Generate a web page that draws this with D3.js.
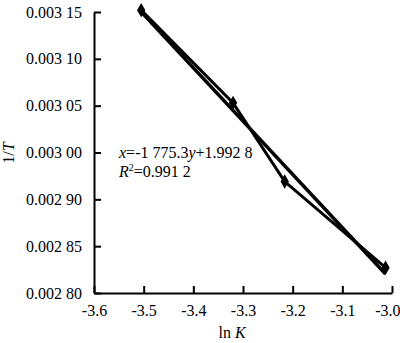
<!DOCTYPE html>
<html lang="en">
<head>
<meta charset="utf-8">
<title>1/T vs ln K</title>
<script src="https://d3js.org/d3.v7.min.js"></script>
<style type="text/css">
  body { margin: 0; background: #fff; }
  text { font-family: "Liberation Serif", "DejaVu Serif", serif; fill: #000; }
</style>
</head>
<body>
<script type="text/javascript">

// data
var lnK = [-3.505, -3.32, -3.216, -3.013];
var invT = [0.003152, 0.003053, 0.002969, 0.002877];

// y ticks (labels as printed, evenly spaced)
var yTickValues = [0.00285, 0.00290, 0.00295, 0.00300, 0.00305, 0.00310, 0.00315];
var yTickLabels = ["0.002 80", "0.002 85", "0.002 90", "0.003 00", "0.003 05", "0.003 10", "0.003 15"];
var xTickValues = [-3.6, -3.5, -3.4, -3.3, -3.2, -3.1, -3.0];
var xTickLabels = ["-3.6", "-3.5", "-3.4", "-3.3", "-3.2", "-3.1", "-3.0"];

var width = 400, height = 343;
var padL = 94, padR = 392, padT = 12, padB = 293;

var svg = d3.select("body").append("svg")
  .attr("width", width)
  .attr("height", height);

var x = d3.scaleLinear().domain([-3.6, -3.0]).range([padL, padR]);
var y = d3.scaleLinear().domain([0.00285, 0.00315]).range([padB, padT]);

// axes
var xAxis = d3.axisBottom(x)
  .tickValues(xTickValues)
  .tickSizeInner(-7).tickSizeOuter(0)
  .tickPadding(12)
  .tickFormat(function(d, i) { return xTickLabels[i]; });

var yAxis = d3.axisLeft(y)
  .tickValues(yTickValues)
  .tickSizeInner(-7).tickSizeOuter(0)
  .tickPadding(12)
  .tickFormat(function(d, i) { return yTickLabels[i]; });

var gx = svg.append("g").attr("transform", "translate(0," + padB + ")").call(xAxis);
var gy = svg.append("g").attr("transform", "translate(" + padL + ",0)").call(yAxis);

[gx, gy].forEach(function(g) {
  g.select(".domain").attr("stroke", "#000").attr("stroke-width", 2);
  g.selectAll(".tick line").attr("stroke", "#000").attr("stroke-width", 2);
  g.selectAll(".tick text")
    .attr("font-size", 16)
    .attr("fill", "#000");
});

// last x label sits against the right edge
gx.selectAll(".tick text").filter(function(d, i) { return i === xTickValues.length - 1; })
  .attr("text-anchor", "end")
  .attr("dx", 8);

// least squares trend line
var n = lnK.length;
var mx = d3.mean(lnK), my = d3.mean(invT);
var sxy = d3.sum(lnK, function(d, i) { return (d - mx) * (invT[i] - my); });
var sxx = d3.sum(lnK, function(d) { return (d - mx) * (d - mx); });
var slope = sxy / sxx, icpt = my - slope * mx;
var x0 = lnK[0], x1 = lnK[n - 1];

svg.append("line")
  .attr("x1", x(x0)).attr("y1", y(slope * x0 + icpt))
  .attr("x2", x(x1)).attr("y2", y(slope * x1 + icpt))
  .attr("stroke", "#000")
  .attr("stroke-width", 3.5);

var pts = lnK.map(function(d, i) { return [d, invT[i]]; });

svg.append("path")
  .datum(pts)
  .attr("fill", "none")
  .attr("stroke", "#000")
  .attr("stroke-width", 3)
  .attr("d", d3.line()
    .x(function(d) { return x(d[0]); })
    .y(function(d) { return y(d[1]); }));

svg.selectAll(".pt")
  .data(pts)
  .enter()
  .append("path")
  .attr("class", "pt")
  .attr("transform", function(d) { return "translate(" + x(d[0]) + "," + y(d[1]) + ")"; })
  .attr("d", d3.symbol().type(d3.symbolDiamond).size(60))
  .attr("fill", "#000");

// equation
var eq = svg.append("text").attr("x", 119).attr("y", 158).attr("font-size", 16);
eq.append("tspan").attr("font-style", "italic").text("x");
eq.append("tspan").text("=-1 775.3");
eq.append("tspan").attr("font-style", "italic").text("y");
eq.append("tspan").text("+1.992 8");

var r2 = svg.append("text").attr("x", 119).attr("y", 177).attr("font-size", 16);
r2.append("tspan").attr("font-style", "italic").text("R");
r2.append("tspan").attr("font-size", 10).attr("dy", -6).text("2");
r2.append("tspan").attr("dy", 6).text("=0.991 2");

// axis titles
var xt = svg.append("text")
  .attr("x", 232).attr("y", 338)
  .attr("text-anchor", "middle")
  .attr("font-size", 16);
xt.append("tspan").text("ln ");
xt.append("tspan").attr("font-style", "italic").text("K");

var yt = svg.append("text")
  .attr("transform", "translate(14,153) rotate(-90)")
  .attr("text-anchor", "middle")
  .attr("font-size", 16);
yt.append("tspan").text("1/");
yt.append("tspan").attr("font-style", "italic").text("T");

</script>
</body>
</html>
